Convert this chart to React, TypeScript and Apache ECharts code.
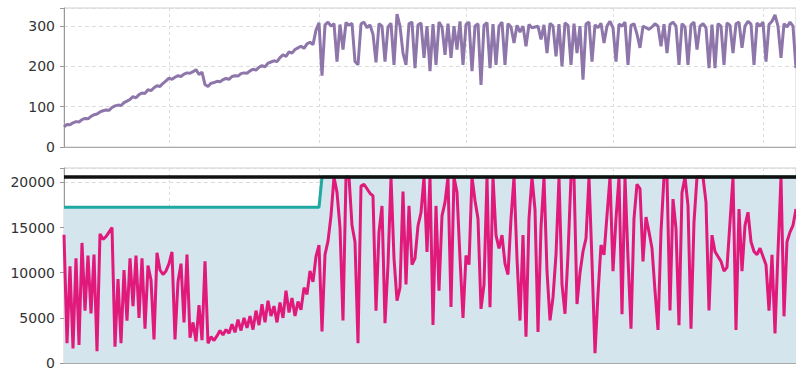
import React, { useEffect, useRef } from "react";
import * as echarts from "echarts";

const topMax = 345;
const topInterval = 100;
const bottomMax = 21600;
const bottomInterval = 5000;
const gridLineIndexes = [35, 85, 134, 183, 233];

const topValues = [
  50, 56, 55, 60, 63, 62, 68, 71, 70, 76,
  80, 82, 87, 90, 92, 91, 98, 102, 104, 103,
  110, 114, 118, 125, 122, 130, 134, 133, 142, 140,
  147, 152, 150, 158, 164, 171, 168, 173, 177, 175,
  181, 184, 183, 187, 192, 180, 186, 155, 150, 158,
  160, 163, 162, 167, 170, 168, 175, 177, 176, 182,
  184, 183, 189, 193, 191, 198, 202, 199, 208, 211,
  214, 212, 222, 229, 225, 236, 233, 242, 246, 250,
  245, 256, 260, 254, 290, 308, 177, 303, 310, 300,
  306, 212, 304, 242, 309, 302, 307, 212, 204, 305,
  310, 296, 303, 280, 210, 306, 300, 212, 298, 307,
  204, 330, 300, 233, 204, 306, 310, 196, 303, 308,
  221, 300, 188, 305, 204, 310, 298, 229, 306, 221,
  300, 242, 312, 204, 304, 310, 188, 300, 306, 154,
  302, 309, 196, 305, 204, 300, 310, 204, 306, 298,
  258, 302, 285, 300, 250, 304, 296, 298, 300, 267,
  303, 233, 307, 300, 225, 305, 200, 308, 302, 204,
  306, 233, 300, 167, 305, 310, 212, 303, 296, 307,
  258, 300, 312, 296, 212, 305, 300, 310, 204, 302,
  306, 280, 246, 300, 296, 292, 298, 306, 300, 250,
  305, 233, 304, 310, 300, 204, 306, 298, 204, 303,
  310, 242, 300, 306, 296, 196, 304, 196, 306, 300,
  204, 308, 302, 233, 306, 310, 246, 300, 312, 305,
  204, 308, 300, 310, 212, 304, 312, 328, 300, 221,
  306, 298, 310, 300, 196,
];

const pinkValues = [
  14200, 2200, 10700, 1600, 11600, 2000, 13300, 5800, 11900, 5500,
  12000, 1300, 14300, 13700, 14000, 14500, 15000, 1800, 9300, 2200,
  10300, 4700, 11600, 6300, 11900, 5000, 11600, 3800, 10800, 9200,
  2600, 12200, 10300, 9800, 10200, 11000, 12300, 2600, 9000, 11000,
  4500, 12000, 2800, 4500, 2400, 6400, 2540, 11260, 2180, 2900,
  2500, 3000, 3600, 3100, 3700, 3300, 4300, 3400, 4800, 3600,
  5000, 3900, 5200, 3700, 5800, 4200, 6500, 4500, 6900, 5200,
  6300, 4500, 6700, 5000, 8000, 5600, 7200, 5200, 6800, 5900,
  8350, 7600, 10200, 9000, 11800, 13070, 3500, 12000, 13500, 16300,
  20600, 18900, 15000, 4700, 20600, 20600, 15250, 13400, 2180, 19600,
  19800, 19300, 18800, 18500, 5800, 14500, 17400, 4400, 10900, 20600,
  11600, 6900, 8350, 19000, 8700, 17400, 10900, 11600, 15200, 16650,
  20600, 12300, 20600, 4200, 17400, 8000, 16300, 17800, 20600, 6200,
  20600, 18900, 11600, 5000, 11900, 10900, 20600, 18000, 15980, 6000,
  8700, 20600, 6170, 20600, 14160, 12700, 14160, 11000, 9800, 16000,
  20600, 11600, 4700, 14160, 2900, 15980, 20600, 17000, 3450, 15000,
  20600, 10170, 4720, 7260, 12000, 20600, 8710, 5450, 12000, 20600,
  20600, 6530, 10000, 12350, 13800, 20600, 11260, 1090, 7620, 13070,
  11980, 16340, 20600, 10170, 15980, 20600, 5400, 20600, 11620, 3810,
  15980, 19800, 19300, 11260, 16160, 14500, 12700, 8000, 3670, 14520,
  20600, 20600, 5810, 18150, 14890, 4180, 18880, 20600, 17430, 3810,
  15610, 20600, 20600, 20600, 17790, 5810, 14160, 12350, 11800, 11260,
  10170, 10600, 15610, 20600, 3670, 17060, 10170, 15250, 16700, 13430,
  12350, 12000, 12710, 11800, 10890, 5810, 11980, 3270, 12350, 20600,
  5170, 13430, 14500, 15250, 17060,
];

const tealX = [0, 85, 86, 244];
const tealY = [17250, 17250, 20600, 20600];
const limitX = [0, 244];
const limitY = [20600, 20600];

const categories = topValues.map((_, i) => String(i));

const labelStyle = {
  color: "#333",
  fontFamily: "DejaVu Sans",
  fontSize: 14,
  margin: 9,
};

function xAxisFor(gridIndex: number) {
  return {
    type: "category" as const,
    gridIndex,
    data: categories,
    boundaryGap: false,
    axisLabel: { show: false },
    axisTick: { show: false },
    axisLine: { show: true, lineStyle: { color: "#aaa", width: 1 } },
    splitLine: {
      show: true,
      interval: (index: number) => gridLineIndexes.includes(index),
      lineStyle: { color: "#dcdcdc", type: [3, 3] as any, width: 1 },
    },
  };
}

function yAxisFor(gridIndex: number, max: number, interval: number) {
  return {
    type: "value" as const,
    gridIndex,
    min: 0,
    max,
    interval,
    axisLabel: {
      ...labelStyle,
      formatter: (v: number) => (v % interval === 0 ? String(v) : ""),
    },
    axisTick: { show: true, length: 4, lineStyle: { color: "#999" } },
    axisLine: { show: true, lineStyle: { color: "#999", width: 1 } },
    splitLine: {
      show: true,
      lineStyle: { color: "#dcdcdc", type: [4, 3] as any, width: 1 },
    },
  };
}

export default function App() {
  const ref = useRef<HTMLDivElement>(null);

  useEffect(() => {
    if (!ref.current) return;
    const chart = echarts.init(ref.current, null, { renderer: "svg" });
    chart.setOption({
      animation: false,
      backgroundColor: "#fff",
      grid: [
        {
          left: 64,
          right: -2,
          top: 8,
          height: 139,
          show: true,
          borderColor: "#cfcfcf",
          borderWidth: 1,
        },
        {
          left: 64,
          right: -2,
          top: 168,
          height: 199,
          show: true,
          borderColor: "#cfcfcf",
          borderWidth: 1,
        },
      ],
      xAxis: [xAxisFor(0), xAxisFor(1)],
      yAxis: [
        yAxisFor(0, topMax, topInterval),
        yAxisFor(1, bottomMax, bottomInterval),
      ],
      series: [
        {
          type: "line",
          xAxisIndex: 0,
          yAxisIndex: 0,
          data: topValues,
          showSymbol: false,
          lineStyle: { color: "#8e76aa", width: 3 },
          z: 3,
        },
        {
          type: "line",
          xAxisIndex: 1,
          yAxisIndex: 1,
          data: tealX.map((x, i) => [x, tealY[i]]),
          showSymbol: false,
          lineStyle: { color: "#1fa9a0", width: 3 },
          areaStyle: { color: "#d4e5ee", opacity: 1 },
          z: 2,
        },
        {
          type: "line",
          xAxisIndex: 1,
          yAxisIndex: 1,
          data: pinkValues,
          showSymbol: false,
          lineStyle: { color: "#e0197b", width: 3 },
          z: 3,
        },
        {
          type: "line",
          xAxisIndex: 1,
          yAxisIndex: 1,
          data: limitX.map((x, i) => [x, limitY[i]]),
          showSymbol: false,
          lineStyle: { color: "#111", width: 3.5 },
          z: 4,
        },
      ],
    });
    return () => chart.dispose();
  }, []);

  return (
    <div
      ref={ref}
      style={{ position: "fixed", left: 0, top: 0, width: 796, height: 370 }}
    />
  );
}
